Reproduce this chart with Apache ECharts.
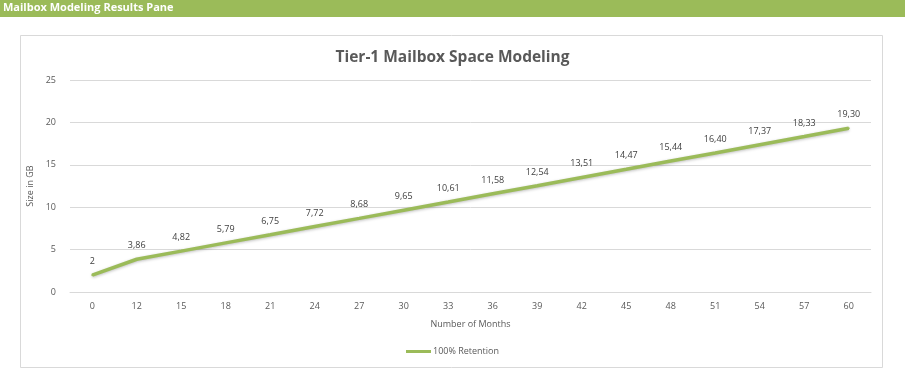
<!DOCTYPE html>
<html>
<head>
<meta charset="utf-8">
<script src="https://cdn.jsdelivr.net/npm/echarts@6/dist/echarts.min.js"></script>
<style>
html,body{margin:0;padding:0;background:#fff;}
#c{width:905px;height:382px;}
</style>
</head>
<body>
<div id="c"></div>
<script>
var months = ['0','12','15','18','21','24','27','30','33','36','39','42','45','48','51','54','57','60'];
var sizeGB = [2, 3.86, 4.82, 5.79, 6.75, 7.72, 8.68, 9.65, 10.61, 11.58, 12.54, 13.51, 14.47, 15.44, 16.40, 17.37, 18.33, 19.30];
var pointLabels = ['2','3,86','4,82','5,79','6,75','7,72','8,68','9,65','10,61','11,58','12,54','13,51','14,47','15,44','16,40','17,37','18,33','19,30'];
var yTicks = [0, 5, 10, 15, 20, 25];

var FONT = '"Open Sans", "Liberation Sans", sans-serif';
var chart = echarts.init(document.getElementById('c'));
chart.setOption({
  animation: false,
  backgroundColor: '#fff',
  graphic: [
    {type:'rect', shape:{x:0,y:0,width:905,height:17}, style:{fill:'#9BBB59'}, z:0},
    {type:'text', left:3, top:2, style:{text:'Mailbox Modeling Results Pane', fill:'#fff', font:'bold 11px ' + FONT}},
    {type:'rect', shape:{x:20.5,y:35.5,width:862,height:332}, style:{fill:'none', stroke:'#D9D9D9', lineWidth:1}, z:-1}
  ],
  title: {
    text: 'Tier-1 Mailbox Space Modeling',
    left: 'center',
    top: 45,
    textStyle: {color:'#595959', fontSize:15.5, fontWeight:'bold', fontFamily:FONT}
  },
  grid: {left:70, right:34, top:80, bottom:90},
  legend: {
    bottom: 21,
    left: 'center',
    itemWidth: 25,
    itemHeight: 3,
    icon: 'rect',
    itemGap: 2,
    itemStyle: {color:'#9BBB59', opacity:1},
    textStyle: {color:'#595959', fontSize:9, fontFamily:FONT, padding:[0,0,0,-3]},
    data: ['100% Retention']
  },
  xAxis: {
    type: 'category',
    data: months,
    boundaryGap: true,
    name: 'Number of Months',
    nameLocation: 'middle',
    nameGap: 28,
    nameTextStyle: {color:'#595959', fontSize:9, fontFamily:FONT},
    axisLine: {lineStyle:{color:'#D9D9D9'}},
    axisTick: {show:false},
    axisLabel: {color:'#595959', fontSize:9, fontFamily:FONT, margin:10}
  },
  yAxis: {
    type: 'value',
    min: 0,
    max: 25,
    interval: 5,
    name: 'Size in GB',
    nameLocation: 'middle',
    nameGap: 24,
    nameTextStyle: {color:'#595959', fontSize:9, fontFamily:FONT},
    axisLine: {show:false},
    axisTick: {show:false},
    axisLabel: {color:'#595959', fontSize:9, fontFamily:FONT, margin:14},
    splitLine: {lineStyle:{color:'#D9D9D9'}}
  },
  series: [{
    name: '100% Retention',
    type: 'line',
    data: sizeGB,
    symbol: 'circle',
    symbolSize: 2,
    showSymbol: true,
    showAllSymbol: true,
    itemStyle: {color:'#9BBB59'},
    color: '#9BBB59',
    lineStyle: {width:3.5, color:'#9BBB59', shadowColor:'rgba(0,0,0,0.25)', shadowBlur:3, shadowOffsetY:1},
    label: {
      show: true,
      position: 'top',
      distance: 8,
      color: '#404040',
      fontSize: 9,
      fontFamily: FONT,
      formatter: function(p){ return pointLabels[p.dataIndex]; }
    }
  }]
});
</script>
</body>
</html>
